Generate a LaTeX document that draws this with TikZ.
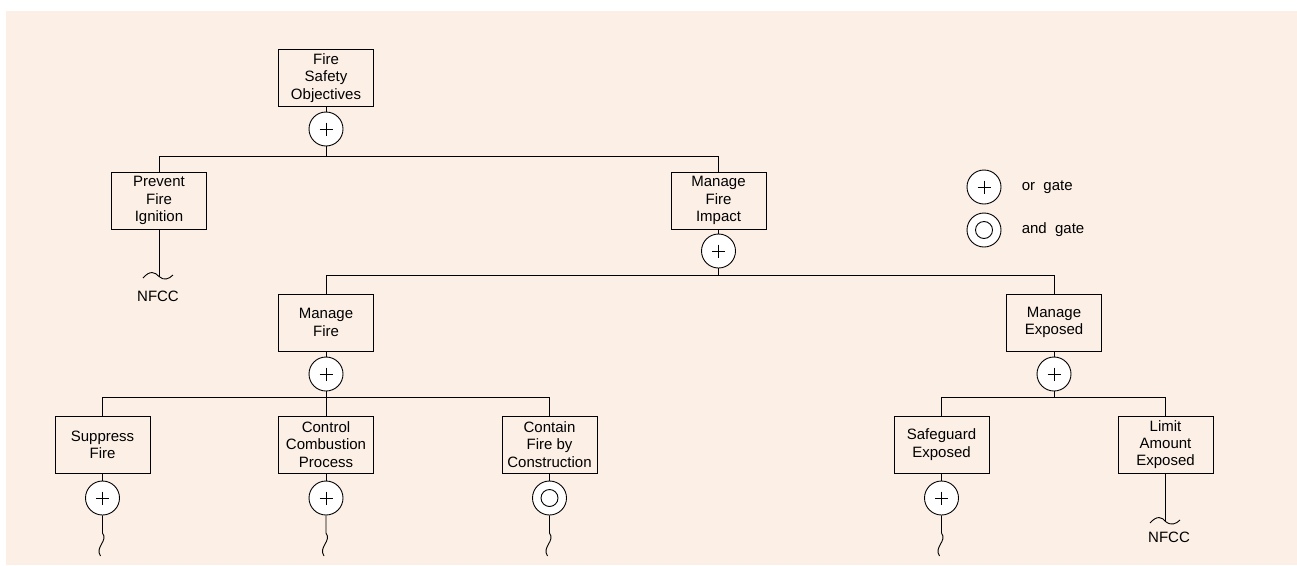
\documentclass[tikz,border=0pt]{standalone}
\usepackage{fontspec}
\setmainfont{Liberation Sans}
\definecolor{cream}{RGB}{252,239,230}

\newcommand{\orgate}[2]{%
  \node[gate] (#1) at (#2) {};
  \draw (#1.center) +(-6.5,0) -- +(6.5,0) (#1.center) +(0,-6.5) -- +(0,6.5);}
\newcommand{\andgate}[2]{%
  \node[gate] (#1) at (#2) {};
  \draw (#1.center) circle (8.5pt);}
% open end below a gate
\newcommand{\wavyend}[2]{%
  \draw (#1.south) -- (#2,533) .. controls (#2+6,541) and (#2-8,547) .. (#2-2,556);}

\begin{document}
\begin{tikzpicture}[x=1pt,y=-1pt,line width=0.9pt,
    goal/.style={draw, minimum width=95pt, minimum height=57pt, inner sep=0pt,
      align=center, font=\fontsize{15}{17.3}\selectfont},
    gate/.style={draw, circle, fill=white, minimum size=34pt, inner sep=0pt},
    lbl/.style={font=\fontsize{15}{17.3}\selectfont}]
  \useasboundingbox (0,0) rectangle (1297,565);
  \fill[cream] (6,11) rectangle (1297,565);

  % goals
  \node[goal] (fso) at (326,78) {Fire\\Safety\\Objectives};
  \node[goal] (pfi) at (159,200.5) {Prevent\\Fire\\Ignition};
  \node[goal] (mfi) at (718.5,200.5) {Manage\\Fire\\Impact};
  \node[goal] (mf) at (326,322.5) {Manage\\Fire};
  \node[goal] (me) at (1054,322.5) {Manage\\Exposed};
  \node[goal] (sf) at (102.5,444.5) {Suppress\\Fire};
  \node[goal] (ccp) at (326,444.5) {Control\\Combustion\\Process};
  \node[goal] (cfc) at (549.5,444.5) {Contain\\Fire by\\Construction};
  \node[goal] (se) at (941.5,444.5) {Safeguard\\Exposed};
  \node[goal] (lae) at (1165.5,444.5) {Limit\\Amount\\Exposed};

  % gates
  \draw (fso) -- (326,129);
  \orgate{gfso}{326,129}
  \draw (mfi) -- (718.5,251);
  \orgate{gmfi}{718.5,251}
  \draw (mf) -- (326,374);
  \orgate{gmf}{326,374}
  \draw (me) -- (1054,374);
  \orgate{gme}{1054,374}
  \draw (sf) -- (102.5,498);
  \orgate{gsf}{102.5,498}
  \draw (ccp) -- (326,498);
  \orgate{gccp}{326,498}
  \draw (cfc) -- (549.5,498);
  \andgate{gcfc}{549.5,498}
  \draw (se) -- (941.5,498);
  \orgate{gse}{941.5,498}

  % bars
  \coordinate (bar1) at (0,156);
  \coordinate (bar2) at (0,275);
  \coordinate (bar3) at (0,397);
  \draw (gfso.south) -- (gfso |- bar1) -| (pfi.north);
  \draw (gfso |- bar1) -| (mfi.north);
  \draw (gmfi.south) -- (gmfi |- bar2) -| (mf.north);
  \draw (gmfi |- bar2) -| (me.north);
  \draw (gmf.south) -- (gmf |- bar3) -| (sf.north);
  \draw (gmf |- bar3) -| (cfc.north);
  \draw (gmf |- bar3) -- (ccp.north);
  \draw (gme.south) -- (gme |- bar3) -| (se.north);
  \draw (gme |- bar3) -| (lae.north);

  % open ends
  \wavyend{gsf}{102.5}
  \wavyend{gccp}{326}
  \wavyend{gcfc}{549.5}
  \wavyend{gse}{941.5}

  % not further developed
  \node[lbl] (nfcc1) at (158,296) {NFCC};
  \draw (pfi.south) -- (159,276.5);
  \draw (143,278) .. controls (150,270) and (155,272) .. (159,276.5)
    .. controls (164,281) and (169,279) .. (173,275);
  \node[lbl] (nfcc2) at (1169,537) {NFCC};
  \draw (lae.south) -- (1165.5,521.5);
  \draw (1150,523) .. controls (1157,515) and (1162,517) .. (1165.5,521.5)
    .. controls (1171,526) and (1176,524) .. (1180,520);

  % legend
  \orgate{lor}{984,187}
  \node[lbl, anchor=west] (lortxt) at (1018,187) {or\ \ gate};
  \andgate{land}{984,230}
  \node[lbl, anchor=west] (landtxt) at (1018,230) {and\ \ gate};
\end{tikzpicture}
\end{document}
